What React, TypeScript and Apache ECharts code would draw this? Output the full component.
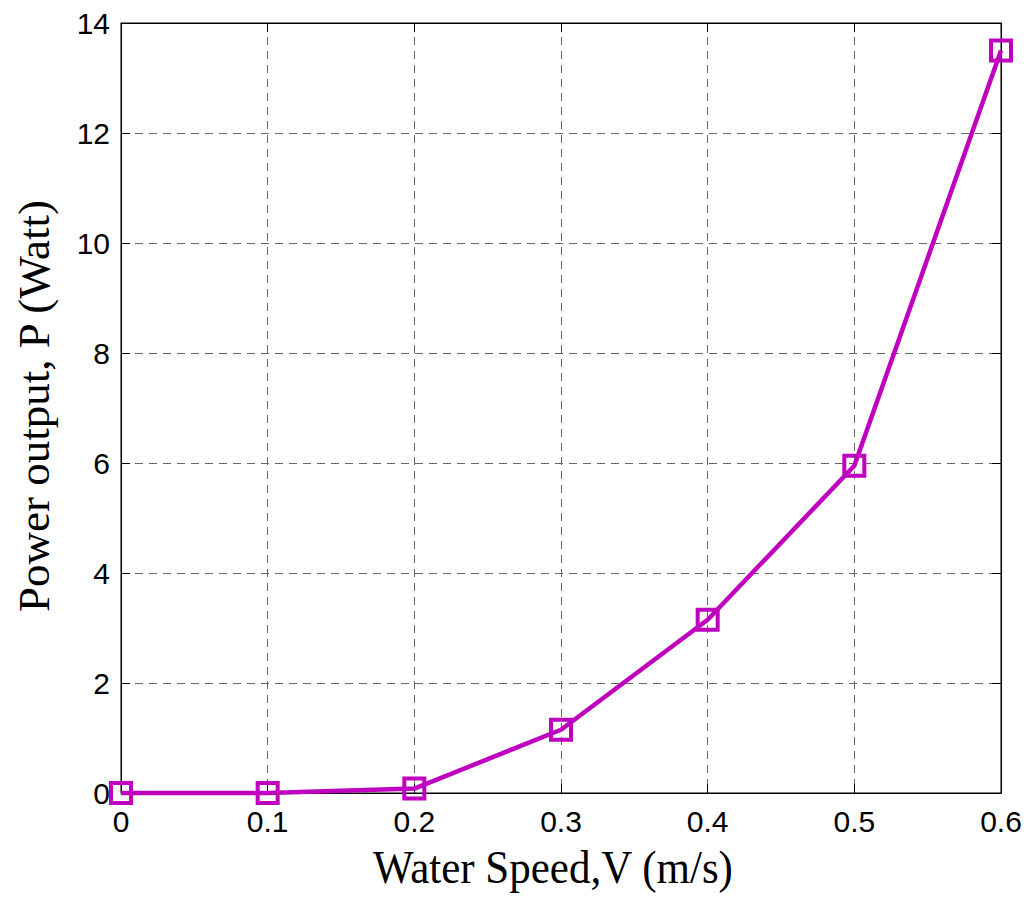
import React, { useEffect, useRef } from "react";
import * as echarts from "echarts";

const speeds = [0, 0.1, 0.2, 0.3, 0.4, 0.5, 0.6];
const power = [0, 0, 0.08, 1.15, 3.15, 5.95, 13.5];
const xTitle = "Water Speed,V (m/s)";
const yTitle = "Power output, P (Watt)";

const LINE = "#BF00BF";

export default function App() {
  const ref = useRef<HTMLDivElement>(null);
  useEffect(() => {
    if (!ref.current) return;
    const chart = echarts.init(ref.current, null, { renderer: "svg" });
    const fmtX = (v: number) => (v === 0 ? "0" : String(+v.toFixed(1)));
    const tickStyle = { inside: true, length: 9, lineStyle: { color: "#000", width: 1 } };
    chart.setOption({
      animation: false,
      backgroundColor: "#fff",
      grid: { left: 121, top: 23, width: 880, height: 770, show: true, borderColor: "#000", borderWidth: 1 },
      xAxis: [
        {
          type: "value", min: 0, max: 0.6, interval: 0.1,
          axisLine: { show: true, onZero: false, lineStyle: { color: "#000", width: 1 } },
          axisTick: tickStyle,
          axisLabel: { formatter: fmtX, color: "#000", fontFamily: "Liberation Sans", fontSize: 30, margin: 13 },
          splitLine: { show: true, lineStyle: { color: "#666", width: 1, type: [8, 6] } },
        },
        {
          type: "value", min: 0, max: 0.6, interval: 0.1, position: "top",
          axisLine: { show: true, onZero: false, lineStyle: { color: "#000" } },
          axisTick: tickStyle, axisLabel: { show: false }, splitLine: { show: false },
        },
      ],
      yAxis: [
        {
          type: "value", min: 0, max: 14, interval: 2,
          axisLine: { show: true, onZero: false, lineStyle: { color: "#000", width: 1 } },
          axisTick: tickStyle,
          axisLabel: { color: "#000", fontFamily: "Liberation Sans", fontSize: 30, margin: 11 },
          splitLine: { show: true, lineStyle: { color: "#666", width: 1, type: [8, 6] } },
        },
        {
          type: "value", min: 0, max: 14, interval: 2, position: "right",
          axisLine: { show: true, onZero: false, lineStyle: { color: "#000" } },
          axisTick: tickStyle, axisLabel: { show: false }, splitLine: { show: false },
        },
      ],
      graphic: [
        {
          type: "text", x: 553, y: 867, scaleX: 0.915,
          style: {
            text: xTitle, fontFamily: "Liberation Serif", fontSize: 47, fill: "#000",
            textAlign: "center", textVerticalAlign: "middle",
          },
        },
        {
          type: "text", x: 34, y: 406, rotation: Math.PI / 2,
          style: {
            text: yTitle, fontFamily: "Liberation Serif", fontSize: 45, fill: "#000",
            textAlign: "center", textVerticalAlign: "middle",
          },
        },
      ],
      series: [
        {
          type: "line",
          xAxisIndex: 0, yAxisIndex: 0,
          data: speeds.map((s, i) => [s, power[i]]),
          symbol: "rect", symbolSize: 20, showAllSymbol: true,
          clip: false,
          lineStyle: { color: LINE, width: 4.5 },
          itemStyle: { color: "rgba(0,0,0,0)", borderColor: LINE, borderWidth: 4 },
          z: 5,
        },
      ],
    });
    return () => chart.dispose();
  }, []);
  return (
    <div
      ref={ref}
      style={{ position: "fixed", left: 0, top: 0, width: 1034, height: 897, background: "#fff" }}
    />
  );
}
